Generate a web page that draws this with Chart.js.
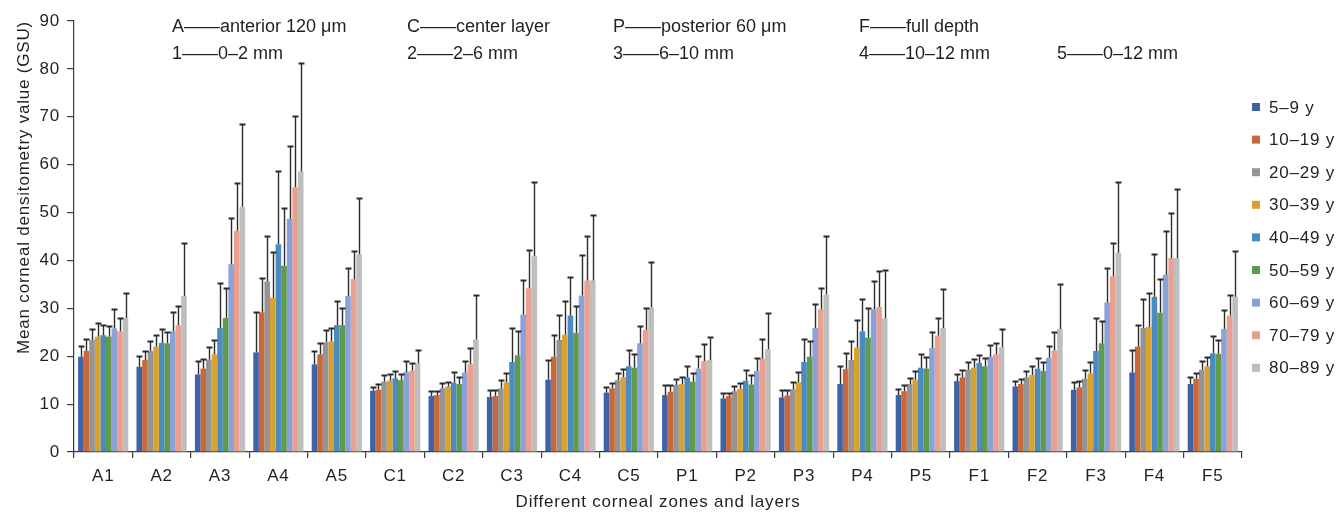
<!DOCTYPE html>
<html>
<head>
<meta charset="utf-8">
<script src="https://cdn.jsdelivr.net/npm/chart.js@4.4.1/dist/chart.umd.min.js"></script>
<style>
html, body { margin: 0; padding: 0; background: #fff; }
.chart-container { position: relative; width: 1338px; height: 513px; }
</style>
</head>
<body>
<div class="chart-container"><canvas id="myChart" width="1338" height="513"></canvas></div>
<script>
// categories and age groups
const categories = ['A1','A2','A3','A4','A5','C1','C2','C3','C4','C5','P1','P2','P3','P4','P5','F1','F2','F3','F4','F5'];
const age_groups = ['5–9 y','10–19 y','20–29 y','30–39 y','40–49 y','50–59 y','60–69 y','70–79 y','80–89 y'];

// mean values (GSU), one array per age group
const mean_5_9   = [19.9,17.8,16.2,20.8,18.3, 12.8,11.7,11.5,15.1,12.4, 11.9,11.2,11.4,14.2,11.9, 14.8,13.7,13.0,16.6,14.2];
const mean_10_19 = [21.1,19.2,17.4,29.2,20.4, 13.0,11.9,11.7,19.9,13.3, 12.6,11.7,11.8,17.3,12.7, 15.6,14.2,13.5,22.0,15.3];
const mean_20_29 = [23.4,21.1,19.3,35.6,22.9, 14.7,13.3,13.3,23.4,15.0, 14.0,12.7,13.1,19.2,14.2, 17.2,15.6,15.3,25.9,17.2];
const mean_30_39 = [24.1,22.0,20.4,32.2,23.1, 14.9,13.7,14.5,24.5,15.6, 14.2,13.2,14.6,21.8,15.1, 17.6,16.1,16.4,26.1,17.9];
const mean_40_49 = [24.4,22.8,25.9,43.4,26.5, 15.4,14.5,18.8,28.5,17.9, 15.6,14.9,18.8,25.2,17.6, 18.6,17.4,21.1,32.4,20.6];
const mean_50_59 = [24.1,22.7,28.0,38.9,26.5, 15.0,14.2,20.2,24.9,17.6, 14.7,14.1,19.9,23.9,17.4, 17.9,16.9,22.7,29.1,20.5];
const mean_60_69 = [25.8,25.2,39.2,48.7,32.6, 16.7,16.6,28.7,32.7,22.7, 17.4,16.9,25.9,29.8,21.7, 19.9,19.7,31.2,37.0,25.7];
const mean_70_79 = [25.2,26.5,46.2,55.3,36.1, 17.0,18.3,34.2,35.8,25.5, 19.0,19.5,29.8,30.3,24.3, 20.4,21.2,36.7,40.5,28.5];
const mean_80_89 = [28.0,32.6,51.2,58.6,41.3, 18.5,23.5,40.9,35.8,30.2, 19.2,21.5,32.9,27.9,25.9, 21.9,25.7,41.6,40.5,32.4];

// standard deviations (upper error bars)
const sd_5_9   = [2.3,2.2,2.8,8.4,2.8, 0.8,1.0,1.4,4.2,1.1, 2.0,1.1,1.5,3.7,1.3, 1.5,1.2,1.7,4.8,1.4];
const sd_10_19 = [2.4,1.9,2.1,7.2,2.3, 1.3,0.8,1.2,4.5,1.1, 1.3,0.7,1.1,3.4,1.2, 1.5,1.1,1.4,4.5,1.3];
const sd_20_29 = [2.2,2.0,2.7,9.6,2.5, 1.3,1.1,1.8,5.3,1.5, 1.3,1.1,1.5,4.0,1.2, 1.5,1.3,1.8,6.0,1.8];
const sd_30_39 = [2.9,2.4,3.0,9.6,2.7, 1.3,0.9,2.0,7.0,1.7, 1.4,1.2,2.1,5.7,1.8, 1.8,1.8,2.3,7.2,2.0];
const sd_40_49 = [2.1,2.8,9.3,15.3,5.0, 1.5,2.2,7.1,8.1,3.4, 2.3,2.2,4.8,6.7,2.9, 1.6,2.3,6.9,9.0,3.6];
const sd_50_59 = [2.2,2.3,6.2,12.0,3.6, 1.2,1.4,5.0,5.6,2.8, 1.8,1.9,3.3,6.1,2.5, 1.8,1.9,4.7,7.0,2.9];
const sd_60_69 = [4.0,4.0,9.7,15.1,5.9, 2.3,2.5,7.2,8.5,3.7, 2.7,2.7,5.0,6.0,3.3, 2.4,2.4,7.2,9.1,4.0];
const sd_70_79 = [2.8,4.0,9.9,14.9,5.9, 1.5,3.5,7.9,9.4,4.5, 3.5,4.1,4.4,7.5,3.6, 2.3,3.8,7.0,9.4,4.3];
const sd_80_89 = [5.1,11.1,17.3,22.7,11.8, 2.8,9.3,15.4,13.6,9.4, 4.9,7.6,12.2,10.2,8.1, 3.8,9.4,14.7,14.5,9.5];

const note_row1 = ['A——anterior 120 μm','C——center layer','P——posterior 60 μm','F——full depth'];
const note_row2 = ['1——0–2 mm','2——2–6 mm','3——6–10 mm','4——10–12 mm','5——0–12 mm'];

const y_title = 'Mean corneal densitometry value (GSU)';
const x_title = 'Different corneal zones and layers';

const all_means = [mean_5_9,mean_10_19,mean_20_29,mean_30_39,mean_40_49,mean_50_59,mean_60_69,mean_70_79,mean_80_89];
const all_sds = [sd_5_9,sd_10_19,sd_20_29,sd_30_39,sd_40_49,sd_50_59,sd_60_69,sd_70_79,sd_80_89];
const bar_colors = ['#3f64a6','#c9693b','#959595','#d9a22f','#4b8bbf','#5f9a4f','#8aa2d6','#eba08f','#bebebe'];

const font_family = "'Liberation Sans', Arial, Helvetica, sans-serif";
const text_color = '#231f20';
const axis_color = '#3a3a3a';

Chart.defaults.font.family = font_family;
Chart.defaults.font.size = 17;
Chart.defaults.color = text_color;

const text_spacing = {
    id: 'text_spacing',
    beforeLayout(chart){ chart.ctx.letterSpacing = '0.8px'; },
    beforeDraw(chart){ chart.ctx.letterSpacing = '0.8px'; }
};

const error_bars = {
    id: 'error_bars',
    afterDatasetsDraw(chart){
        const ctx = chart.ctx;
        const y = chart.scales.y;
        ctx.save();
        ctx.strokeStyle = '#2b2b2b';
        chart.data.datasets.forEach((ds, i) => {
            const meta = chart.getDatasetMeta(i);
            meta.data.forEach((bar, j) => {
                const top = Math.round(y.getPixelForValue(ds.data[j] + ds.sd[j])) + 0.5;
                const x = Math.round(bar.x) + 0.5;
                ctx.lineWidth = 1.4;
                ctx.beginPath();
                ctx.moveTo(x, bar.y);
                ctx.lineTo(x, top);
                ctx.stroke();
                ctx.lineWidth = 2;
                ctx.beginPath();
                ctx.moveTo(x - 3, top);
                ctx.lineTo(x + 3, top);
                ctx.stroke();
            });
        });
        ctx.restore();
    }
};

// legend and zone notes drawn by hand
const side_legend = {
    id: 'side_legend',
    afterDraw(chart){
        const ctx = chart.ctx;
        const area = chart.chartArea;
        ctx.save();
        ctx.letterSpacing = '0.8px';
        ctx.font = '17px ' + font_family;
        ctx.textBaseline = 'middle';
        ctx.textAlign = 'left';
        chart.data.datasets.forEach((ds, i) => {
            const cy = 107 + i * 32.6;
            ctx.fillStyle = ds.backgroundColor;
            ctx.fillRect(area.right + 10, cy - 4, 8, 8);
            ctx.fillStyle = text_color;
            ctx.fillText(ds.label, area.right + 27, cy + 1);
        });

        ctx.letterSpacing = '0px';
        ctx.font = '18px ' + font_family;
        const note_x = [172, 407, 613, 859, 1057];
        note_row1.forEach((t, i) => ctx.fillText(t, note_x[i], 27));
        note_row2.forEach((t, i) => ctx.fillText(t, note_x[i], 54));
        ctx.restore();
    }
};

const chart = new Chart(document.getElementById('myChart').getContext('2d'), {
    type: 'bar',
    data: {
        labels: categories,
        datasets: age_groups.map((label, i) => ({
            label: label,
            data: all_means[i],
            sd: all_sds[i],
            backgroundColor: bar_colors[i],
            borderWidth: 0,
            categoryPercentage: 0.86,
            barPercentage: 1.0
        }))
    },
    options: {
        responsive: false,
        animation: false,
        devicePixelRatio: 1,
        layout: { padding: { top: 21, right: 96, left: 0, bottom: 0 } },
        plugins: {
            legend: { display: false },
            tooltip: { enabled: false }
        },
        scales: {
            x: {
                grid: { drawOnChartArea: false, offset: true, tickLength: 6, color: axis_color, lineWidth: 1.2 },
                border: { color: axis_color, width: 1.2 },
                ticks: { padding: 8, color: text_color, font: { size: 17 } },
                title: { display: true, text: x_title, color: text_color, font: { size: 17 }, padding: { top: 0, bottom: 0 } },
                afterFit(scale){ scale.height = 61; }
            },
            y: {
                min: 0,
                max: 90,
                grid: { drawOnChartArea: false, tickLength: 7, color: axis_color, lineWidth: 1.2 },
                border: { color: axis_color, width: 1.2 },
                ticks: { stepSize: 10, padding: 7, color: text_color, font: { size: 17 } },
                title: { display: true, text: y_title, align: 'end', color: text_color, font: { size: 17 }, padding: { top: 14, bottom: 0 } },
                afterFit(scale){ scale.width = 74; }
            }
        }
    },
    plugins: [text_spacing, error_bars, side_legend]
});
</script>
</body>
</html>
